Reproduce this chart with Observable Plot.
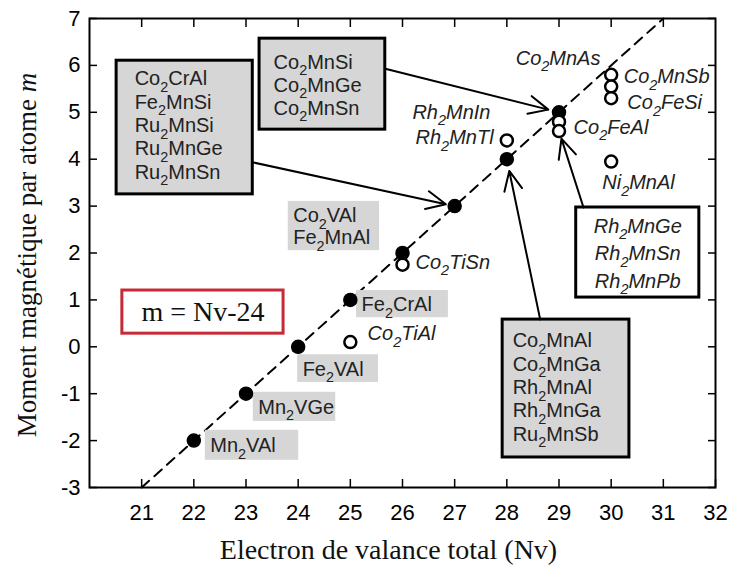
<!DOCTYPE html>
<html><head><meta charset="utf-8">
<script src="https://cdn.jsdelivr.net/npm/d3@7"></script>
<script src="https://cdn.jsdelivr.net/npm/@observablehq/plot@0.6"></script>
<style>
body{margin:0;background:#fff;}
g[aria-label="annot"] text, g[aria-label="boxtext"] text{letter-spacing:0.8px;}
g[aria-label="formula"] text{letter-spacing:1.2px;}
g[aria-label="title"] text{letter-spacing:0.4px;}
</style></head><body><div id="chart"></div>
<script>
// ---- data ----
const filledNv = [22, 23, 24, 25, 26, 27, 28, 29];
const filledM  = [-2, -1, 0, 1, 2, 3, 4, 5];
const openNv = [25, 26, 28, 29, 29, 30, 30, 30, 30];
const openM  = [0.1, 1.75, 4.4, 4.8, 4.6, 5.8, 5.55, 5.3, 3.95];
const ruleNv = [21, 31];          // m = Nv - 24
const ruleM  = [-3, 7];
const xTicks = [21, 22, 23, 24, 25, 26, 27, 28, 29, 30, 31, 32];
const yTicks = [-3, -2, -1, 0, 1, 2, 3, 4, 5, 6, 7];
const xTitle = "Electron de valance total (Nv)";
const yTitle = "Moment magnétique par atome *m*";
const formula = "m = Nv-24";

// compound lists (framed boxes)
const boxTexts = [
  "Co_2CrAl\nFe_2MnSi\nRu_2MnSi\nRu_2MnGe\nRu_2MnSn",
  "Co_2MnSi\nCo_2MnGe\nCo_2MnSn",
  "Rh_2MnGe\nRh_2MnSn\nRh_2MnPb",
  "Co_2MnAl\nCo_2MnGa\nRh_2MnAl\nRh_2MnGa\nRu_2MnSb"
];
// shaded labels
const tagTexts = ["Co_2VAl\nFe_2MnAl", "Fe_2CrAl", "Fe_2VAl", "Mn_2VGe", "Mn_2VAl"];
// italic labels
const italTexts = ["Co_2MnAs", "Co_2MnSb", "Co_2FeSi", "Co_2FeAl", "Ni_2MnAl", "Rh_2MnIn", "Rh_2MnTl", "Co_2TiSn", "Co_2TiAl"];

// ---- layout (data units) ----
const boxLayout = [
  {x1: 20.52, x2: 23.13, y1: 6.10, y2: 3.25, fill: "#d6d6d6", italic: false, center: false, pad: 18, dy: -3, lh: 1.17},
  {x1: 23.26, x2: 25.67, y1: 6.57, y2: 4.63, fill: "#d6d6d6", italic: false, center: false, pad: 14, dy: 0, lh: 1.15},
  {x1: 29.33, x2: 31.69, y1: 2.97, y2: 1.05, fill: "#ffffff", italic: true,  center: true,  pad: 0,  dy: -1, lh: 1.37},
  {x1: 27.92, x2: 30.35, y1: 0.58, y2: -2.36, fill: "#d6d6d6", italic: false, center: false, pad: 10, dy: -2, lh: 1.17}
];
const tagLayout = [
  {x1: 23.81, x2: 25.56, y1: 3.10, y2: 2.05},
  {x1: 25.12, x2: 26.88, y1: 1.20, y2: 0.62},
  {x1: 23.99, x2: 25.54, y1: -0.17, y2: -0.76},
  {x1: 23.14, x2: 24.72, y1: -0.97, y2: -1.59},
  {x1: 22.22, x2: 24.01, y1: -1.78, y2: -2.42}
];
const italNv = [28.17, 30.24, 30.31, 29.28, 29.83, 26.19, 26.25, 26.25, 25.33];
const italM  = [6.15, 5.76, 5.20, 4.68, 3.50, 5.00, 4.46, 1.80, 0.28];
const arrowFromNv = [23.14, 25.67, 29.47, 28.64];
const arrowFromM  = [3.93, 5.93, 2.97, 0.58];
const arrowToNv   = [27, 29, 29, 28];
const arrowToM    = [3, 5, 4.6, 4];
const arrowInset  = [9, 11, 8, 12];
const formulaBox  = {x1: 20.63, x2: 23.72, y1: 1.20, y2: 0.28};

// ---- build ----
const filled = filledNv.map((v, i) => ({v, m: filledM[i]}));
const open = openNv.map((v, i) => ({v, m: openM[i]}));
const rule = ruleNv.map((v, i) => ({v, m: ruleM[i]}));
const boxes = boxTexts.map((t, i) => ({text: t, ...boxLayout[i]}));
const tags = tagTexts.map((t, i) => ({text: t, ...tagLayout[i]}));
const itals = italTexts.map((t, i) => ({text: t, v: italNv[i], m: italM[i]}));
const arrows = arrowFromNv.map((v, i) => ({v1: v, m1: arrowFromM[i], v2: arrowToNv[i], m2: arrowToM[i], inset: arrowInset[i]}));

const SANS = "Liberation Sans, Arial, Helvetica, sans-serif";
const SERIF = "Liberation Serif, Times New Roman, serif";
const fmt = d => String(d);

const marks = [
  Plot.line(rule, {x: "v", y: "m", stroke: "black", strokeWidth: 2, strokeDasharray: "10,7"}),
  Plot.frame({stroke: "black", strokeWidth: 2}),
  Plot.axisX(xTicks, {anchor: "bottom", tickSize: -8, tickPadding: 25, tickFormat: fmt, fontSize: 22, fontFamily: SANS, label: null, strokeWidth: 1.5}),
  Plot.axisX(xTicks.filter(d => d < 32), {anchor: "top", tickSize: -8, tickFormat: () => "", label: null, strokeWidth: 1.5}),
  Plot.axisY(yTicks, {anchor: "left", tickSize: -8, tickPadding: 17, tickFormat: fmt, fontSize: 22, fontFamily: SANS, label: null, strokeWidth: 1.5}),
  Plot.axisY(yTicks, {anchor: "right", tickSize: -8, tickFormat: () => "", label: null, strokeWidth: 1.5}),
  // shaded tags
  Plot.rect(tags, {x1: "x1", x2: "x2", y1: "y1", y2: "y2", fill: "#d6d6d6"}),
  Plot.text(tags, {x: "x1", y: d => (d.y1 + d.y2) / 2, text: "text", textAnchor: "start", lineAnchor: "middle", dx: 5, dy: 0, lineHeight: 1.1, fontSize: 20, fontFamily: SANS, fill: "#222", ariaLabel: "annot"}),
  // formula
  Plot.rect([formulaBox], {x1: "x1", x2: "x2", y1: "y1", y2: "y2", fill: "white", stroke: "#c62a36", strokeWidth: 3}),
  Plot.text([formulaBox], {x: d => (d.x1 + d.x2) / 2, y: d => (d.y1 + d.y2) / 2, text: () => formula, fontSize: 28, fontFamily: SERIF, fill: "#111", ariaLabel: "formula"}),
  // italic labels
  Plot.text(itals, {x: "v", y: "m", text: "text", textAnchor: "start", fontSize: 20, fontStyle: "italic", fontFamily: SANS, fill: "#222", ariaLabel: "annot"})
];
for (const b of boxes) {
  marks.push(Plot.rect([b], {x1: "x1", x2: "x2", y1: "y1", y2: "y2", fill: b.fill, stroke: "black", strokeWidth: 3}));
  marks.push(Plot.text([b], {x: d => d.center ? (d.x1 + d.x2) / 2 : d.x1, y: d => (d.y1 + d.y2) / 2, text: "text",
    textAnchor: b.center ? "middle" : "start", lineAnchor: "middle", dx: b.pad, dy: b.dy, lineHeight: b.lh,
    fontSize: 20, fontFamily: SANS, fontStyle: b.italic ? "italic" : "normal", fill: "#222", ariaLabel: "boxtext"}));
}
for (const a of arrows) {
  marks.push(Plot.arrow([a], {x1: "v1", y1: "m1", x2: "v2", y2: "m2", stroke: "black", strokeWidth: 2, headLength: 16, headAngle: 50, insetEnd: a.inset}));
}
marks.push(
  Plot.dot(filled, {x: "v", y: "m", r: 6.5, fill: "black", stroke: "black"}),
  Plot.dot(open, {x: "v", y: "m", r: 6, fill: "white", stroke: "black", strokeWidth: 2.5}),
  Plot.text([xTitle], {frameAnchor: "bottom", textAnchor: "middle", lineAnchor: "middle", dx: -14, dy: 63, text: d => d, fontSize: 28, fontFamily: SERIF, fill: "#111", ariaLabel: "title"}),
  Plot.text([yTitle], {frameAnchor: "left", textAnchor: "middle", lineAnchor: "middle", rotate: -90, dx: -62, dy: 2, text: d => d, fontSize: 27, fontFamily: SERIF, fill: "#111", ariaLabel: "title"})
);

const chart = Plot.plot({
  width: 735, height: 571,
  marginTop: 18, marginBottom: 84, marginLeft: 89, marginRight: 20,
  x: {domain: [20, 32]},
  y: {domain: [-3, 7]},
  style: {fontFamily: SANS, fontSize: "20px", color: "black", background: "white", overflow: "visible"},
  marks
});
document.getElementById("chart").appendChild(chart);

// subscripts and italics inside real text
const NS = "http://www.w3.org/2000/svg";
function richify(node) {
  const s = node.textContent;
  if (!/_2|\*/.test(s)) return;
  const fs = parseFloat(getComputedStyle(node).fontSize);
  const sh = fs * 0.33;
  node.textContent = "";
  const parts = s.split(/(_2|\*[^*]+\*)/).filter(p => p !== "");
  let down = false;
  for (const p of parts) {
    const t = document.createElementNS(NS, "tspan");
    if (p === "_2") {
      t.textContent = "2";
      t.setAttribute("font-size", (fs * 0.72).toFixed(1));
      t.setAttribute("dy", sh.toFixed(1));
      down = true;
    } else {
      if (p.startsWith("*")) { t.textContent = p.slice(1, -1); t.setAttribute("font-style", "italic"); }
      else t.textContent = p;
      if (down) { t.setAttribute("dy", (-sh).toFixed(1)); down = false; }
    }
    node.appendChild(t);
  }
}
chart.querySelectorAll("text").forEach(te => {
  const lines = Array.from(te.children).filter(c => c.tagName === "tspan");
  if (lines.length) lines.forEach(richify); else richify(te);
});
</script></body></html>
